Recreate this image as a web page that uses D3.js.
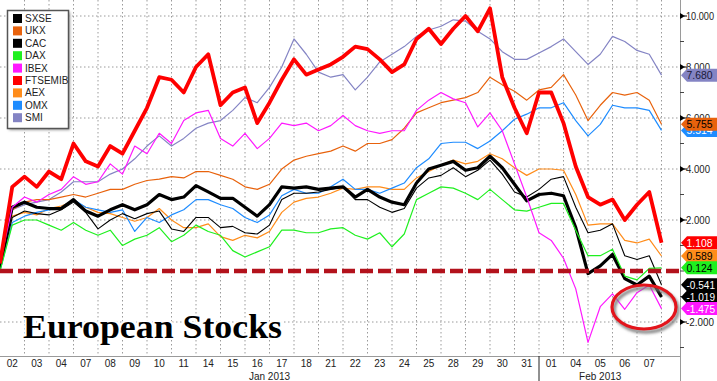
<!DOCTYPE html>
<html><head><meta charset="utf-8">
<script src="https://cdn.jsdelivr.net/npm/d3@7"></script>
<style>html,body{margin:0;padding:0;background:#fff;}svg{display:block;}</style>
</head><body>
<svg id="c" width="717" height="381"></svg>
<script>
// ---- data ----
const dayLabels = ["02","03","04","07","08","09","10","11","14","15","16","17","18","21","22","23","24","25","28","29","30","31","01","04","05","06","07"];
const monthLabels = [{label:"Jan 2013", from:0, to:22}, {label:"Feb 2013", from:22, to:27}];
const times = d3.range(55).map(k => k * 0.5); // half-day sample positions (day index)
const yTicks = [10, 8, 6, 4, 2, -2];
const seriesNames = ["SXSE","UKX","CAC","DAX","IBEX","FTSEMIB","AEX","OMX","SMI"];
const SXSE = [0.2,2.5,2.7,2.5,2.45,2.45,2.8,2.35,2.15,2.4,2.6,2.4,2.6,3.0,2.8,2.9,3.35,3.1,2.85,2.85,2.5,2.15,2.6,3.3,3.25,3.3,3.2,3.25,3.3,2.9,3.2,2.9,2.7,2.6,3.45,4.0,4.15,4.3,3.95,4.05,4.5,4.05,3.4,2.75,3.0,3.05,2.95,1.7,-0.1,0.2,0.65,-0.3,-0.55,-0.2,-1.019];
const UKX = [0.2,2.4,2.7,2.8,2.8,2.9,3.0,2.9,3.05,3.2,3.2,3.4,3.55,3.6,3.7,3.65,3.9,3.9,3.75,3.6,3.3,3.2,3.4,4.0,4.35,4.5,4.6,4.7,4.9,4.7,5.0,5.0,5.15,5.6,6.2,6.4,6.6,6.7,6.8,7.0,7.6,7.3,7.05,6.7,7.1,7.2,7.7,6.9,5.9,6.5,7.0,6.9,7.0,6.7,5.755];
const CAC = [0.1,2.1,2.35,2.25,2.2,2.4,2.7,2.3,1.65,2.0,2.25,2.05,2.25,2.35,1.65,1.55,2.1,2.1,1.7,1.75,1.5,1.45,1.8,2.8,3.05,3.05,3.1,3.2,3.3,2.8,2.8,2.5,2.3,2.45,3.25,3.65,3.75,4.05,3.7,3.95,4.35,3.8,3.1,2.9,3.2,3.6,3.7,2.5,1.5,1.6,1.85,0.6,0.45,0.6,-0.541];
const DAX = [0.0,1.8,2.0,2.0,1.8,1.6,1.9,1.6,1.4,1.6,1.0,1.25,1.4,1.7,1.15,1.4,1.8,1.55,1.4,0.8,0.55,0.75,0.95,1.6,1.6,1.5,1.5,1.65,1.7,1.4,1.25,1.5,0.95,1.45,2.8,3.05,3.3,3.25,3.05,2.8,3.2,2.8,2.4,2.35,2.5,2.65,2.65,1.6,0.6,0.6,0.85,-0.2,-0.35,0.1,0.124];
const IBEX = [0.3,2.5,2.9,2.7,3.0,3.2,3.7,3.4,3.5,4.2,3.8,4.9,4.6,5.4,5.0,5.9,6.2,6.3,5.2,4.9,5.4,4.8,5.2,5.8,5.7,5.8,5.5,5.7,6.1,5.7,5.5,5.4,5.5,5.5,6.3,6.7,7.0,6.75,6.6,5.65,6.2,5.5,4.2,2.9,1.5,1.2,0.5,-0.7,-2.8,-1.4,-0.9,-1.5,-0.85,-0.55,-1.475];
const FTSEMIB = [0.3,3.3,3.7,3.3,3.9,3.6,5.0,4.3,4.1,4.9,4.6,5.5,6.4,7.6,7.5,7.0,8.0,8.5,6.5,7.0,7.2,5.8,6.6,7.5,8.3,7.7,7.9,8.1,8.4,8.8,8.7,8.3,7.8,8.1,9.1,9.5,8.9,9.5,10.0,9.4,10.3,7.6,6.4,5.4,7.0,7.0,5.8,4.1,2.9,2.6,2.8,2.0,2.6,3.1,1.108];
const AEX = [0.1,2.15,2.3,2.2,2.45,2.55,2.75,2.5,2.3,2.25,2.1,1.95,2.1,2.45,2.0,1.7,1.7,1.85,1.35,1.2,1.4,1.3,1.55,2.3,2.7,2.85,2.9,3.05,3.25,3.2,3.3,3.3,3.2,3.2,3.65,3.9,4.15,4.35,4.2,4.3,4.6,4.4,4.05,3.75,4.0,4.0,3.95,3.0,1.8,1.85,1.85,1.2,1.1,1.25,0.589];
const OMX = [0.0,1.9,2.15,2.3,2.4,2.5,2.8,2.5,2.4,2.3,2.4,1.55,2.1,1.9,2.2,2.4,2.8,2.8,2.6,2.45,2.1,1.9,2.2,2.95,3.2,3.05,3.05,3.3,3.6,3.2,3.2,3.05,3.25,3.45,4.05,4.4,5.0,5.05,5.05,4.8,5.1,5.5,5.95,6.15,6.4,6.4,6.6,5.9,5.3,5.75,6.5,6.4,6.4,6.3,5.514];
const SMI = [0.5,2.4,2.6,2.7,2.8,3.1,3.5,3.5,3.5,3.8,4.0,4.4,4.9,5.3,4.9,5.2,5.6,5.8,5.9,6.3,6.8,6.6,7.2,8.0,9.1,8.5,7.8,7.6,7.7,7.1,7.6,8.2,8.5,8.8,9.2,9.45,9.6,9.85,9.8,9.4,9.1,8.6,8.3,8.3,8.55,8.8,9.1,8.6,8.1,8.5,9.2,9.0,8.65,8.5,7.68];
const endLabels = ["-1.019","5.755","-0.541","0.124","-1.475","1.108","0.589","5.514","7.680"];
const yTickLabels = ["10.000","8.000","6.000","4.000","2.000","-2.000"];
const titleText = "European Stocks";

// ---- styles ----
const styles = {
  SXSE:{color:"#000000", w:3.2, text:"#ffffff"},
  UKX:{color:"#e8620c", w:1.2, text:"#000000"},
  CAC:{color:"#000000", w:1.1, text:"#ffffff"},
  DAX:{color:"#1ff01f", w:1.2, text:"#000000"},
  IBEX:{color:"#ff18ff", w:1.2, text:"#ffffff"},
  FTSEMIB:{color:"#ff0000", w:3.8, text:"#ffffff"},
  AEX:{color:"#ff8c1a", w:1.2, text:"#000000"},
  OMX:{color:"#1e8cff", w:1.2, text:"#ffffff"},
  SMI:{color:"#8484c4", w:1.2, text:"#1a1a3a"}
};
const values = {SXSE, UKX, CAC, DAX, IBEX, FTSEMIB, AEX, OMX, SMI};
const drawOrder = ["SMI","AEX","UKX","OMX","CAC","SXSE","DAX","IBEX","FTSEMIB"];

const svg = d3.select("#c");
const W = 717, H = 381;
const plotR = 680, plotB = 356;
const x = d3.scaleLinear().domain([0, 27]).range([0, 661.5]);
const y = d3.scaleLinear().domain([-2, 10]).range([322, 16]);

const defs = svg.append("defs");
const f = defs.append("filter").attr("id","shadow").attr("x","-10%").attr("y","-50%").attr("width","120%").attr("height","300%");
f.append("feGaussianBlur").attr("stdDeviation", 1.6);

// grid
const g = svg.append("g");
for (let i = 1; i <= 27; i++) {
  g.append("line").attr("x1", x(i)).attr("x2", x(i)).attr("y1", 0).attr("y2", plotB)
    .attr("stroke", "#9a9a9a").attr("stroke-width", 1).attr("stroke-dasharray", "1.5,2.5");
}
yTicks.forEach(v => {
  g.append("line").attr("x1", 0).attr("x2", plotR).attr("y1", y(v)).attr("y2", y(v))
    .attr("stroke", "#9a9a9a").attr("stroke-width", 1).attr("stroke-dasharray", "1.5,2.5");
});

// title
const serif = "Liberation Serif, Times New Roman, serif";
[["#fff", 4], ["#000", 0]].forEach(([c, sw]) => {
  svg.append("text").attr("x", 23).attr("y", 338).text(titleText)
    .attr("font-family", serif).attr("font-weight", "bold")
    .attr("font-size", 34).attr("textLength", 259).attr("lengthAdjust", "spacingAndGlyphs")
    .attr("fill", c).attr("stroke", sw ? c : "none").attr("stroke-width", sw);
});

// lines
const line = d3.line().x((d, i) => x(times[i])).y(d => y(d));
drawOrder.forEach(name => {
  svg.append("path").datum(values[name]).attr("d", line)
    .attr("fill", "none").attr("stroke", styles[name].color)
    .attr("stroke-width", styles[name].w).attr("stroke-linejoin", "round");
});

// zero dashed line with shadow
svg.append("line").attr("x1", 0).attr("x2", plotR + 2).attr("y1", y(0) + 4).attr("y2", y(0) + 4)
  .attr("stroke", "#888").attr("stroke-width", 4).attr("stroke-dasharray", "13,5").attr("opacity", 0.7)
  .attr("filter", "url(#shadow)");
svg.append("line").attr("x1", 0).attr("x2", plotR + 2).attr("y1", y(0)).attr("y2", y(0))
  .attr("stroke", "#b3121c").attr("stroke-width", 4.5).attr("stroke-dasharray", "13,5");

// red ellipse with shadow
svg.append("ellipse").attr("cx", 646).attr("cy", 310).attr("rx", 32).attr("ry", 22)
  .attr("fill", "none").attr("stroke", "#777").attr("stroke-width", 3).attr("filter", "url(#shadow)");
svg.append("ellipse").attr("cx", 644).attr("cy", 307).attr("rx", 32).attr("ry", 22)
  .attr("fill", "none").attr("stroke", "#e3141b").attr("stroke-width", 3.2);

// axes lines
svg.append("rect").attr("x", plotR + 1).attr("y", 0).attr("width", W - plotR).attr("height", H).attr("fill", "#fff");
svg.append("rect").attr("x", 0).attr("y", plotB + 1).attr("width", W).attr("height", H - plotB).attr("fill", "#fff");
svg.append("line").attr("x1", plotR + 0.5).attr("x2", plotR + 0.5).attr("y1", 0).attr("y2", H).attr("stroke", "#9a9a9a");
svg.append("line").attr("x1", 0).attr("x2", plotR).attr("y1", plotB + 0.5).attr("y2", plotB + 0.5).attr("stroke", "#9a9a9a");
svg.append("line").attr("x1", x(22)).attr("x2", x(22)).attr("y1", plotB).attr("y2", H).attr("stroke", "#222");

// x labels
const fnt = "Liberation Sans, Arial, sans-serif";
dayLabels.forEach((d, i) => {
  svg.append("text").attr("x", x(i + 0.5)).attr("y", 367).attr("text-anchor", "middle")
    .attr("font-family", fnt).attr("font-size", 10).attr("fill", "#222").text(d);
});
monthLabels.forEach(m => {
  svg.append("text").attr("x", x((m.from + m.to) / 2)).attr("y", 380).attr("text-anchor", "middle")
    .attr("font-family", fnt).attr("font-size", 10).attr("fill", "#222").text(m.label);
});

// y axis ticks & labels (right)
d3.range(-3, 11).forEach(v => {
  if (yTicks.includes(v)) return;
  svg.append("line").attr("x1", plotR).attr("x2", plotR + 4).attr("y1", y(v)).attr("y2", y(v)).attr("stroke", "#444");
});
yTicks.forEach((v, i) => {
  const yy = y(v);
  svg.append("path").attr("d", `M${plotR},${yy - 3}L${plotR + 5},${yy}L${plotR},${yy + 3}Z`).attr("fill", "#000");
  svg.append("line").attr("x1", plotR + 4).attr("x2", plotR + 7).attr("y1", yy).attr("y2", yy).attr("stroke", "#000");
  const lbl = yTickLabels[i];
  svg.append("text").attr("x", plotR + 6).attr("y", yy + 4).attr("font-family", fnt).attr("font-size", 10.5)
    .attr("textLength", lbl.length > 5 ? 28 : 24).attr("lengthAdjust", "spacingAndGlyphs")
    .attr("fill", "#222").text(lbl);
});

// end labels
const labelOrder = ["SMI","OMX","UKX","FTSEMIB","AEX","DAX","CAC","SXSE","IBEX"];
labelOrder.forEach(name => {
  const idx = seriesNames.indexOf(name);
  const vals = values[name];
  const yy = y(vals[vals.length - 1]);
  const st = styles[name];
  const h = 6.5;
  const lbl = endLabels[idx];
  svg.append("path").attr("d", `M${plotR + 1},${yy}L${plotR + 7},${yy - h}L${W},${yy - h}L${W},${yy + h}L${plotR + 7},${yy + h}Z`)
    .attr("fill", st.color);
  svg.append("text").attr("x", plotR + 6.5).attr("y", yy + 4).attr("font-family", fnt).attr("font-size", 11)
    .attr("textLength", lbl.length > 5 ? 28.5 : 26).attr("lengthAdjust", "spacingAndGlyphs")
    .attr("fill", st.text).text(lbl);
});

// legend
const lg = svg.append("g");
lg.append("rect").attr("x", 9).attr("y", 12).attr("width", 61).attr("height", 118).attr("fill", "#999").attr("filter", "url(#shadow)");
lg.append("rect").attr("x", 7.5).attr("y", 10.5).attr("width", 61).attr("height", 118).attr("fill", "#fff")
  .attr("stroke", "#555").attr("stroke-width", 1.5);
seriesNames.forEach((n, i) => {
  const yy = 18.5 + i * 12.4;
  lg.append("rect").attr("x", 13).attr("y", yy - 4.5).attr("width", 9).attr("height", 9).attr("fill", styles[n].color);
  lg.append("text").attr("x", 25).attr("y", yy + 3.5).attr("font-family", fnt).attr("font-size", 10)
    .attr("fill", "#222").text(n);
});
</script>
</body></html>
